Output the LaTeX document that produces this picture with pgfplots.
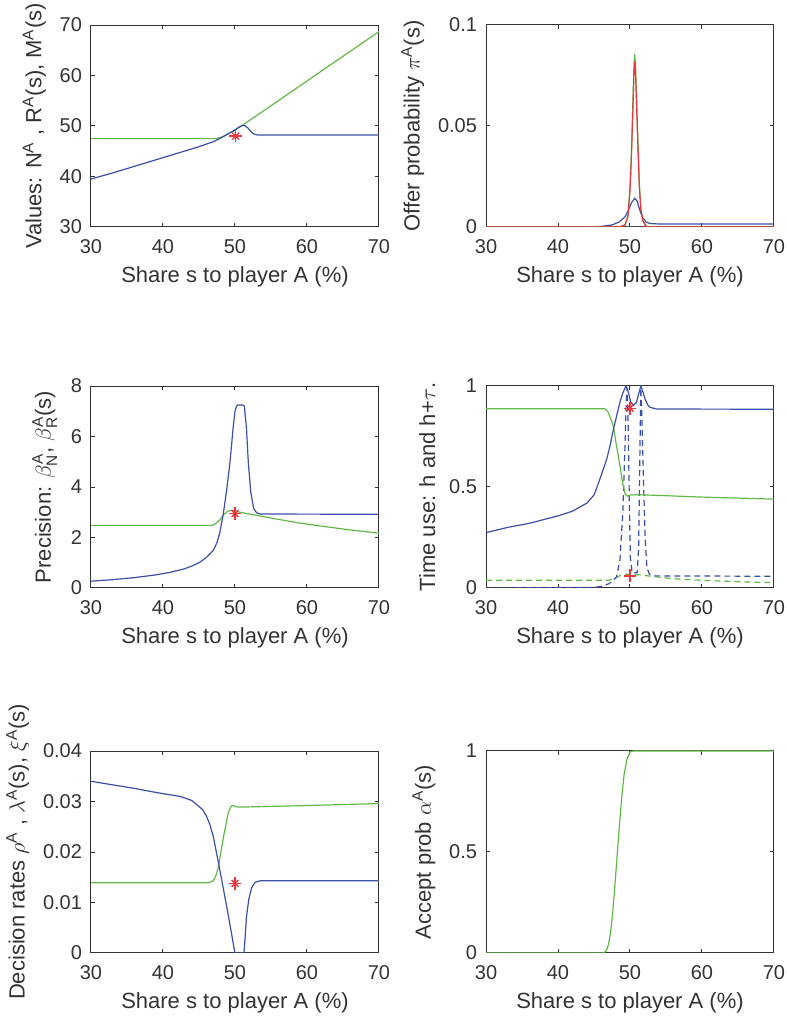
\documentclass[border=0pt]{standalone}
\usepackage{fontspec}
\setmainfont{Liberation Sans}
\usepackage{amsmath}
\usepackage{pgfplots}
\pgfplotsset{compat=1.18}
\definecolor{mblue}{HTML}{3A4FA8}
\definecolor{mgreen}{HTML}{62B846}
\definecolor{mred}{HTML}{E8383D}
\definecolor{axgray}{HTML}{333333}
\pgfplotsset{
  panel/.style={
    scale only axis, width=144pt, height=101pt,
    anchor=south west,
    xmin=30, xmax=70, xtick={30,40,50,60,70},
    tick align=inside, major tick length=2pt,
    axis line style={draw=axgray, line width=0.5pt},
    every tick/.style={axgray, line width=0.5pt},
    tick label style={font=\fontsize{10}{12}\selectfont, text=axgray},
    xticklabel style={yshift=-2.5pt},
    yticklabel style={xshift=-1pt},
    label style={font=\fontsize{11}{13}\selectfont, text=axgray},
    xlabel={Share s to player A (\%)},
    /pgf/number format/assume math mode=true,
    scaled y ticks=false,
    yticklabel style={/pgf/number format/fixed, /pgf/number format/precision=2},
    every axis plot/.append style={line width=0.6pt, mark=none},
  },
  star/.style={mred, only marks, mark=+, mark size=3.2pt, line width=0.7pt, forget plot},
  starx/.style={mred, only marks, mark=x, mark size=2.4pt, line width=0.7pt, forget plot},
  mdash/.style={dash pattern=on 3pt off 2pt},
}
\begin{document}
\begin{tikzpicture}
\useasboundingbox (0,0) rectangle (393.5pt,509pt);
% ---------------- Panel 1 ----------------
\begin{axis}[panel, at={(45.5pt,395.5pt)}, ymin=30, ymax=70, ytick={30,40,50,60,70},
  ylabel={Values: N\textsuperscript{A} , R\textsuperscript{A}(s), M\textsuperscript{A}(s)}]
\addplot[mgreen] coordinates {(30,47.5) (47.3,47.5) (47.8,47.65) (48.3,47.9) (49,48.4) (50,49.2) (50.5,49.7) (51,50.1) (70,68.7)};
\addplot[mblue] coordinates {(30,39.5) (33,40.7) (36,42.0) (39,43.3) (42,44.6) (45,45.9) (47,46.9) (48,47.6) (49,48.4) (50,49.2) (50.5,49.7) (51,50.1) (51.4,50.05) (51.8,49.6) (52.2,48.9) (52.6,48.45) (53,48.25) (53.5,48.2) (70,48.2)};
\addplot[star] coordinates {(50.1,48.0)};
\addplot[starx] coordinates {(50.1,48.0)};
\end{axis}
% ---------------- Panel 2 ----------------
\begin{axis}[panel, at={(243pt,395.5pt)}, ymin=0, ymax=0.1, ytick={0,0.05,0.1},
  ylabel={Offer probability $\pi^{\text{A}}$(s)}]
\addplot[black!70] coordinates {(30,0) (52.5,0)};
\addplot[mblue] coordinates {(30,0) (44,0) (46,0.0003) (47.5,0.001) (48.5,0.0025) (49.3,0.005) (49.8,0.0085) (50.2,0.012) (50.65,0.0142) (51.0,0.0128) (51.3,0.009) (51.7,0.005) (52.2,0.0025) (52.8,0.0017) (54,0.0015) (70,0.0015)};
\addplot[mgreen] coordinates {(30,0) (48.5,0) (49.3,0.001) (49.7,0.005) (50.0,0.019) (50.2,0.037) (50.4,0.061) (50.55,0.080) (50.65,0.0855) (50.75,0.081) (50.9,0.065) (51.1,0.042) (51.3,0.021) (51.5,0.009) (51.8,0.003) (52.2,0.0005) (52.6,0) (70,0)};
\addplot[mred] coordinates {(30,0) (48.5,0) (49.3,0.001) (49.7,0.005) (50.0,0.018) (50.2,0.035) (50.4,0.058) (50.55,0.076) (50.65,0.082) (50.75,0.078) (50.9,0.062) (51.1,0.04) (51.3,0.02) (51.5,0.009) (51.8,0.003) (52.2,0.0005) (52.6,0) (70,0)};
\end{axis}
% ---------------- Panel 3 ----------------
\begin{axis}[panel, at={(45.5pt,215pt)}, ymin=0, ymax=8, ytick={0,2,4,6,8},
  ylabel={Precision: $\beta^{\text{A}}_{\text{N}}$, $\beta^{\text{A}}_{\text{R}}$(s)}]
\addplot[mgreen] coordinates {(30,2.48) (46.8,2.48) (47.3,2.55) (47.9,2.7) (48.5,2.92) (49,3.04) (49.5,3.07) (50,3.05) (50.7,3.0) (53.5,2.85) (56,2.72) (59,2.57) (62,2.45) (66,2.3) (70,2.17)};
\addplot[mblue] coordinates {(30,0.27) (33,0.33) (36,0.41) (39,0.52) (41,0.62) (43,0.76) (44,0.87) (45,1.0) (46,1.2) (47,1.5) (47.5,1.8) (47.9,2.2) (48.4,2.98) (48.85,3.9) (49.3,4.97) (49.76,6.4) (50,7.0) (50.2,7.2) (50.4,7.25) (51.1,7.25) (51.3,7.2) (51.6,6.3) (51.85,4.97) (52.2,3.78) (52.6,3.15) (53,2.98) (53.5,2.93) (70,2.92)};
\addplot[star] coordinates {(50,2.95)};
\addplot[starx] coordinates {(50,2.95)};
\end{axis}
% ---------------- Panel 4 ----------------
\begin{axis}[panel, at={(243pt,215pt)}, ymin=0, ymax=1, ytick={0,0.5,1},
  ylabel={Time use: h and h+$\tau$.}]
\addplot[mgreen, mdash] coordinates {(30,0.038) (47,0.038) (47.8,0.045) (48.4,0.058) (49,0.066) (49.5,0.068) (51,0.066) (53,0.058) (56,0.046) (60,0.038) (65,0.031) (70,0.026)};
\addplot[mblue, mdash] coordinates {(30,0) (45,0.003) (46,0.008) (47,0.02) (47.6,0.035) (48.15,0.056) (48.6,0.14) (49.0,0.37) (49.3,0.70) (49.5,0.94) (49.6,0.99) (49.75,0.8) (49.9,0.45) (50.05,0.15) (50.3,0.075) (51.0,0.075) (51.2,0.2) (51.35,0.6) (51.5,0.99) (51.65,0.85) (51.9,0.5) (52.1,0.25) (52.35,0.1) (52.7,0.068) (53.5,0.06) (70,0.058)};
\addplot[mgreen] coordinates {(30,0.887) (46.5,0.887) (46.9,0.875) (47.3,0.84) (47.7,0.80) (48.05,0.72) (48.4,0.65) (48.9,0.537) (49.3,0.468) (49.6,0.455) (50,0.46) (51,0.462) (55,0.457) (60,0.45) (65,0.445) (70,0.44)};
\addplot[mblue] coordinates {(30,0.274) (33,0.30) (36,0.32) (40,0.357) (42,0.38) (44,0.42) (45,0.46) (45.8,0.537) (46.76,0.637) (47.2,0.70) (47.7,0.786) (48.2,0.86) (48.6,0.92) (49.0,0.965) (49.44,1.0) (49.7,0.98) (50.1,0.92) (50.5,0.905) (50.9,0.92) (51.2,0.96) (51.5,1.0) (51.8,0.97) (52.1,0.935) (52.5,0.905) (52.8,0.894) (53.7,0.886) (70,0.885)};
\addplot[star] coordinates {(50,0.89)};
\addplot[starx] coordinates {(50,0.89)};
\addplot[star] coordinates {(50,0.06)};
\end{axis}
% ---------------- Panel 5 ----------------
\begin{axis}[panel, at={(45.5pt,32.5pt)}, ymin=0, ymax=0.04, ytick={0,0.01,0.02,0.03,0.04},
  ylabel={Decision rates $\rho^{\text{A}}$ , $\lambda^{\text{A}}$(s), $\xi^{\text{A}}$(s)}]
\addplot[mgreen] coordinates {(30,0.0139) (46.3,0.0139) (47,0.0143) (47.4,0.0155) (47.7,0.0171) (48.4,0.023) (49.1,0.028) (49.5,0.0291) (49.8,0.0292) (50.3,0.0289) (51,0.0289) (60,0.0292) (70,0.0296)};
\addplot[mblue] coordinates {(30,0.034) (33,0.0333) (36,0.0326) (39,0.0318) (42.4,0.031) (44,0.0302) (45,0.029) (45.5,0.0284) (46,0.0272) (46.5,0.0255) (47,0.023) (47.9,0.0164) (48.85,0.0092) (49.5,0.004) (49.8,0.0015) (50.0,0) (51.25,0) (51.4,0.003) (51.6,0.0072) (51.9,0.0105) (52.3,0.0129) (52.8,0.014) (53.5,0.0143) (70,0.0143)};
\addplot[star] coordinates {(50,0.0138)};
\addplot[starx] coordinates {(50,0.0138)};
\end{axis}
% ---------------- Panel 6 ----------------
\begin{axis}[panel, at={(243pt,32.5pt)}, ymin=0, ymax=1, ytick={0,0.5,1},
  ylabel={Accept prob $\alpha^{\text{A}}$(s)}]
\addplot[mgreen] coordinates {(30,0) (46.3,0) (46.7,0.01) (47.0,0.04) (47.3,0.1) (47.6,0.2) (48,0.38) (48.4,0.57) (48.8,0.75) (49.2,0.89) (49.6,0.96) (50,0.995) (50.4,1) (70,1)};
\end{axis}
\end{tikzpicture}
\end{document}
